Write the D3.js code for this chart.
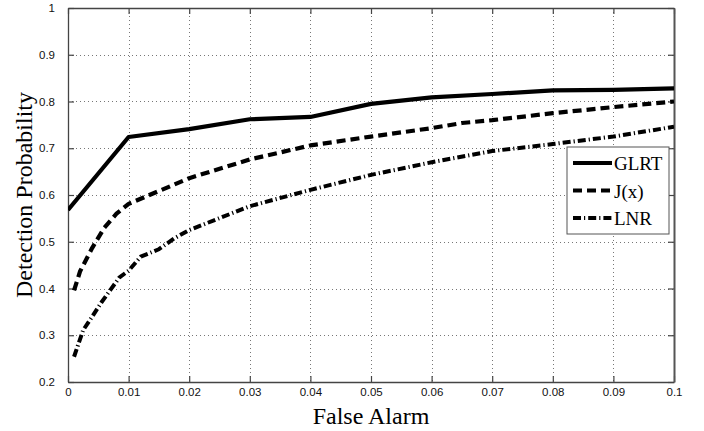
<!DOCTYPE html>
<html>
<head>
<meta charset="utf-8">
<script src="https://cdn.jsdelivr.net/npm/d3@7/dist/d3.min.js"></script>
<style>
  html, body { margin: 0; padding: 0; background: #fff; }
  svg { display: block; }
  .tick text { font-family: "Liberation Sans", Arial, sans-serif; font-size: 11.5px; fill: #111; }
</style>
</head>
<body>
<svg id="chart" width="704" height="431"></svg>
<script>
// False-alarm rate (x) and detection probability (y) for each detector
const glrtX = [0, 0.01, 0.02, 0.03, 0.04, 0.05, 0.06, 0.07, 0.08, 0.09, 0.1];
const glrtY = [0.568, 0.724, 0.741, 0.762, 0.767, 0.795, 0.809, 0.816, 0.824, 0.825, 0.828];

const jxX = [0.001, 0.002, 0.004, 0.006, 0.008, 0.01, 0.02, 0.03, 0.04, 0.05, 0.06, 0.065, 0.07, 0.08, 0.09, 0.1];
const jxY = [0.396, 0.437, 0.487, 0.530, 0.560, 0.581, 0.636, 0.676, 0.706, 0.725, 0.743, 0.754, 0.760, 0.775, 0.788, 0.800];

const lnrX = [0.001, 0.0025, 0.004, 0.0055, 0.007, 0.0085, 0.01, 0.012, 0.015, 0.0175, 0.02, 0.03, 0.04, 0.05, 0.06, 0.07, 0.08, 0.09, 0.1];
const lnrY = [0.254, 0.311, 0.340, 0.370, 0.397, 0.424, 0.438, 0.468, 0.484, 0.507, 0.525, 0.576, 0.611, 0.643, 0.670, 0.694, 0.709, 0.725, 0.746];

const seriesNames = ["GLRT", "J(x)", "LNR"];
const xTicks = [0, 0.01, 0.02, 0.03, 0.04, 0.05, 0.06, 0.07, 0.08, 0.09, 0.1];
const xTickLabels = ["0", "0.01", "0.02", "0.03", "0.04", "0.05", "0.06", "0.07", "0.08", "0.09", "0.1"];
const yTicks = [0.2, 0.3, 0.4, 0.5, 0.6, 0.7, 0.8, 0.9, 1];
const yTickLabels = ["0.2", "0.3", "0.4", "0.5", "0.6", "0.7", "0.8", "0.9", "1"];

const margin = { left: 68, right: 30, top: 8, bottom: 49 };
const W = 704, H = 431;
const svg = d3.select("#chart");

const x = d3.scaleLinear().domain([0, 0.1]).range([margin.left, W - margin.right]);
const y = d3.scaleLinear().domain([0.2, 1]).range([H - margin.bottom, margin.top]);

const x0 = x.range()[0], x1 = x.range()[1], y0 = y.range()[0], y1 = y.range()[1];

// dotted grid
const grid = svg.append("g").attr("stroke", "#777").attr("stroke-width", 1).attr("stroke-dasharray", "1,3");
grid.selectAll("line.vg").data(xTicks.slice(1, -1)).join("line")
  .attr("x1", d => Math.round(x(d)) + 0.5).attr("x2", d => Math.round(x(d)) + 0.5)
  .attr("y1", y1).attr("y2", y0);
grid.selectAll("line.hg").data(yTicks.slice(1, -1)).join("line")
  .attr("y1", d => Math.round(y(d)) + 0.5).attr("y2", d => Math.round(y(d)) + 0.5)
  .attr("x1", x0).attr("x2", x1);

// axes with inward ticks
const fmtX = d => xTickLabels[xTicks.indexOf(d)];
const fmtY = d => yTickLabels[yTicks.indexOf(d)];
const axisStyle = g => {
  g.select(".domain").attr("stroke", "#444").attr("stroke-width", 1.3);
  g.selectAll(".tick line").attr("stroke", "#444").attr("stroke-width", 1.2);
};
svg.append("g").attr("transform", `translate(0,${y0})`)
  .call(d3.axisBottom(x).tickValues(xTicks).tickFormat(fmtX).tickSize(-6).tickPadding(6).tickSizeOuter(0))
  .call(axisStyle);
svg.append("g").attr("transform", `translate(${x0},0)`)
  .call(d3.axisLeft(y).tickValues(yTicks).tickFormat(fmtY).tickSize(-6).tickPadding(13).tickSizeOuter(0))
  .call(axisStyle);
svg.append("g").attr("transform", `translate(0,${y1})`)
  .call(d3.axisTop(x).tickValues(xTicks).tickFormat("").tickSize(-6).tickSizeOuter(0))
  .call(axisStyle);
svg.append("g").attr("transform", `translate(${x1},0)`)
  .call(d3.axisRight(y).tickValues(yTicks).tickFormat("").tickSize(-6).tickSizeOuter(0))
  .call(axisStyle)
  .call(g => g.select(".domain").attr("stroke", "#555").attr("stroke-width", 2));

// curves
const line = d3.line().x(d => x(d[0])).y(d => y(d[1]));
const styles = [
  { dash: null, width: 4.2 },
  { dash: "9,5", width: 4.2 },
  { dash: "8,3,1.2,3", width: 4 }
];
const series = [
  d3.zip(glrtX, glrtY),
  d3.zip(jxX, jxY),
  d3.zip(lnrX, lnrY)
];
const clipId = "plotclip";
svg.append("clipPath").attr("id", clipId).append("rect")
  .attr("x", x0).attr("y", y1).attr("width", x1 - x0).attr("height", y0 - y1);
svg.append("g").attr("clip-path", `url(#${clipId})`)
  .selectAll("path").data(series).join("path")
  .attr("d", line)
  .attr("fill", "none")
  .attr("stroke", "#000")
  .attr("stroke-width", (d, i) => styles[i].width)
  .attr("stroke-dasharray", (d, i) => styles[i].dash)
  .attr("stroke-linejoin", "round");

// legend
const lg = svg.append("g").attr("transform", "translate(567,147)");
lg.append("rect").attr("x", 0).attr("y", 0).attr("width", 102).attr("height", 87)
  .attr("fill", "#fff").attr("stroke", "#555").attr("stroke-width", 1);
seriesNames.forEach((name, i) => {
  const cy = 16 + i * 27.5;
  lg.append("line").attr("x1", 6).attr("x2", 45).attr("y1", cy).attr("y2", cy)
    .attr("stroke", "#000").attr("stroke-width", styles[i].width)
    .attr("stroke-dasharray", styles[i].dash);
  lg.append("text").attr("x", 47).attr("y", cy + 7)
    .attr("font-family", "'Liberation Serif', 'Times New Roman', serif")
    .attr("font-size", 19).attr("fill", "#000").text(name);
});

// axis titles
svg.append("text").attr("x", (x0 + x1) / 2).attr("y", 424)
  .attr("text-anchor", "middle")
  .attr("font-family", "'Liberation Serif', 'Times New Roman', serif")
  .attr("font-size", 24).attr("fill", "#000").text("False Alarm");
svg.append("text").attr("transform", `translate(32,${(y0 + y1) / 2}) rotate(-90)`)
  .attr("text-anchor", "middle")
  .attr("font-family", "'Liberation Serif', 'Times New Roman', serif")
  .attr("font-size", 24).attr("fill", "#000").text("Detection Probability");
</script>
</body>
</html>
